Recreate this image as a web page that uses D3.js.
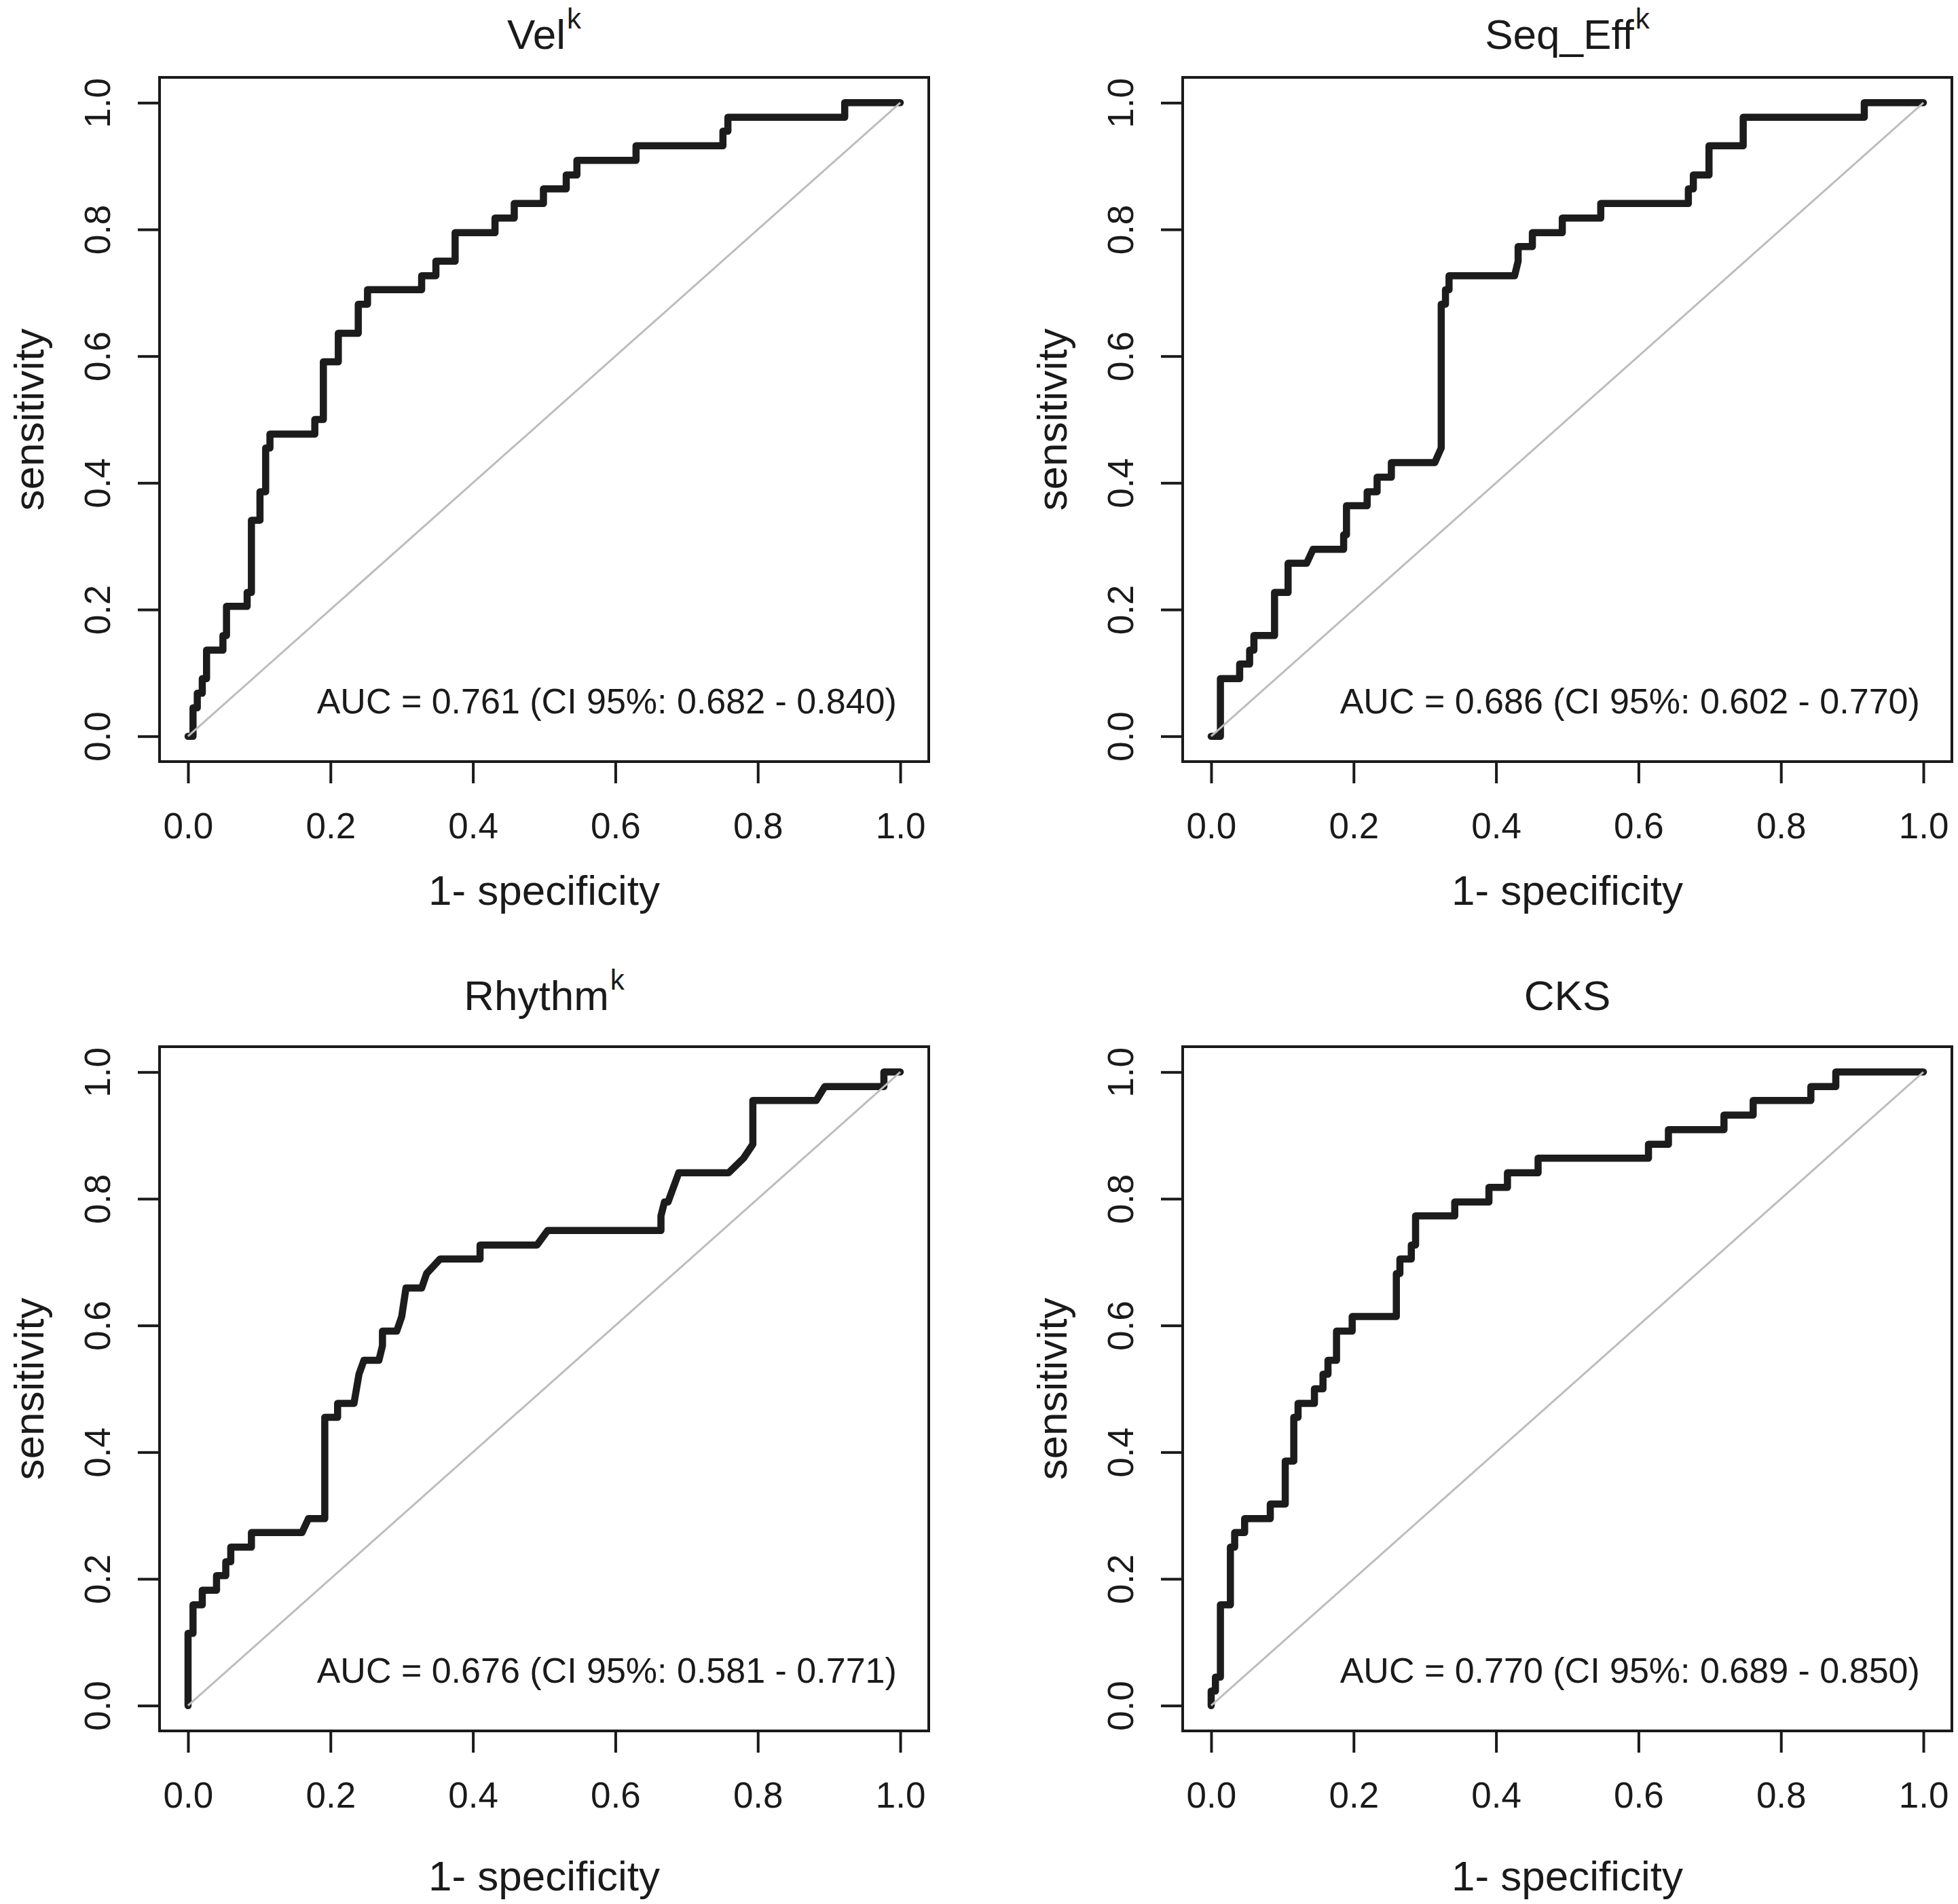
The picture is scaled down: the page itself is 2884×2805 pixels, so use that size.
<!DOCTYPE html>
<html>
<head>
<meta charset="utf-8">
<script src="https://cdn.jsdelivr.net/npm/d3@7/dist/d3.min.js"></script>
<style>
  html, body { margin: 0; padding: 0; background: #ffffff; }
  svg { display: block; }
  text { font-family: "Liberation Sans", Arial, Helvetica, sans-serif; fill: #1a1a1a; }
</style>
</head>
<body>
<div id="chart"></div>
<script>
// ---------------- data ----------------
const panelTitles = ["Vel", "Seq_Eff", "Rhythm", "CKS"];
const titleSuperscripts = ["k", "k", "k", ""];
const aucLabels = [
  "AUC = 0.761 (CI 95%: 0.682 - 0.840)",
  "AUC = 0.686 (CI 95%: 0.602 - 0.770)",
  "AUC = 0.676 (CI 95%: 0.581 - 0.771)",
  "AUC = 0.770 (CI 95%: 0.689 - 0.850)"
];
const tickValues = [0, 0.2, 0.4, 0.6, 0.8, 1.0];
const tickLabels = ["0.0", "0.2", "0.4", "0.6", "0.8", "1.0"];
const xAxisLabel = "1- specificity";
const yAxisLabel = "sensitivity";
const chanceLine = [0, 1];

// Vel^k ROC curve (1 - specificity, sensitivity)
const velFpr = [0, 0.007, 0.007, 0.013, 0.013, 0.020, 0.020, 0.026, 0.026, 0.049, 0.049, 0.054, 0.054, 0.083, 0.083,
  0.089, 0.089, 0.101, 0.101, 0.109, 0.109, 0.115, 0.115, 0.178, 0.178, 0.190, 0.190, 0.211, 0.211, 0.239, 0.239,
  0.252, 0.252, 0.328, 0.328, 0.348, 0.348, 0.375, 0.375, 0.431, 0.431, 0.458, 0.458, 0.499, 0.499, 0.531, 0.531,
  0.546, 0.546, 0.629, 0.629, 0.751, 0.751, 0.758, 0.758, 0.922, 0.922, 1];
const velTpr = [0, 0, 0.045, 0.045, 0.068, 0.068, 0.091, 0.091, 0.136, 0.136, 0.159, 0.159, 0.205, 0.205, 0.227,
  0.227, 0.341, 0.341, 0.386, 0.386, 0.455, 0.455, 0.477, 0.477, 0.5, 0.5, 0.591, 0.591, 0.636, 0.636, 0.682,
  0.682, 0.705, 0.705, 0.727, 0.727, 0.75, 0.75, 0.795, 0.795, 0.818, 0.818, 0.841, 0.841, 0.864, 0.864, 0.886,
  0.886, 0.909, 0.909, 0.932, 0.932, 0.955, 0.955, 0.977, 0.977, 1, 1];

// Seq_Eff^k ROC curve
const seqFpr = [0, 0.013, 0.013, 0.040, 0.040, 0.054, 0.054, 0.060, 0.060, 0.089, 0.089, 0.108, 0.108, 0.134, 0.143,
  0.186, 0.186, 0.190, 0.190, 0.219, 0.219, 0.233, 0.233, 0.253, 0.253, 0.314, 0.323, 0.323, 0.329, 0.329, 0.334,
  0.334, 0.426, 0.431, 0.431, 0.451, 0.451, 0.493, 0.493, 0.547, 0.547, 0.670, 0.670, 0.677, 0.677, 0.699, 0.699,
  0.747, 0.747, 0.917, 0.917, 1];
const seqTpr = [0, 0, 0.091, 0.091, 0.114, 0.114, 0.136, 0.136, 0.159, 0.159, 0.227, 0.227, 0.273, 0.273, 0.295,
  0.295, 0.318, 0.318, 0.364, 0.364, 0.386, 0.386, 0.409, 0.409, 0.432, 0.432, 0.455, 0.682, 0.682, 0.705, 0.705,
  0.727, 0.727, 0.75, 0.773, 0.773, 0.795, 0.795, 0.818, 0.818, 0.841, 0.841, 0.864, 0.864, 0.886, 0.886, 0.932,
  0.932, 0.977, 0.977, 1, 1];

// Rhythm^k ROC curve
const rhyFpr = [0, 0, 0.007, 0.007, 0.020, 0.020, 0.040, 0.040, 0.053, 0.053, 0.060, 0.060, 0.089, 0.089, 0.160,
  0.169, 0.192, 0.192, 0.210, 0.210, 0.233, 0.240, 0.247, 0.268, 0.273, 0.273, 0.293, 0.300, 0.306, 0.328, 0.335,
  0.354, 0.410, 0.410, 0.490, 0.505, 0.664, 0.664, 0.669, 0.674, 0.689, 0.759, 0.780, 0.793, 0.793, 0.882, 0.894,
  0.977, 0.977, 1];
const rhyTpr = [0, 0.114, 0.114, 0.159, 0.159, 0.182, 0.182, 0.205, 0.205, 0.227, 0.227, 0.25, 0.25, 0.273, 0.273,
  0.295, 0.295, 0.455, 0.455, 0.477, 0.477, 0.523, 0.545, 0.545, 0.568, 0.591, 0.591, 0.614, 0.659, 0.659, 0.682,
  0.705, 0.705, 0.727, 0.727, 0.75, 0.75, 0.773, 0.795, 0.795, 0.841, 0.841, 0.864, 0.886, 0.955, 0.955, 0.977,
  0.977, 1, 1];

// CKS ROC curve
const cksFpr = [0, 0, 0.006, 0.006, 0.013, 0.013, 0.027, 0.027, 0.033, 0.033, 0.047, 0.047, 0.083, 0.083, 0.104,
  0.104, 0.116, 0.116, 0.122, 0.122, 0.145, 0.145, 0.157, 0.157, 0.164, 0.164, 0.176, 0.176, 0.198, 0.198, 0.260,
  0.260, 0.265, 0.265, 0.281, 0.281, 0.287, 0.287, 0.342, 0.342, 0.390, 0.390, 0.416, 0.416, 0.459, 0.459, 0.614,
  0.614, 0.642, 0.642, 0.720, 0.720, 0.761, 0.761, 0.842, 0.842, 0.877, 0.877, 1];
const cksTpr = [0, 0.023, 0.023, 0.045, 0.045, 0.159, 0.159, 0.25, 0.25, 0.273, 0.273, 0.295, 0.295, 0.318, 0.318,
  0.386, 0.386, 0.455, 0.455, 0.477, 0.477, 0.5, 0.5, 0.523, 0.523, 0.545, 0.545, 0.591, 0.591, 0.614, 0.614,
  0.682, 0.682, 0.705, 0.705, 0.727, 0.727, 0.773, 0.773, 0.795, 0.795, 0.818, 0.818, 0.841, 0.841, 0.864, 0.864,
  0.886, 0.886, 0.909, 0.909, 0.932, 0.932, 0.955, 0.955, 0.977, 0.977, 1, 1];

const curveFpr = [velFpr, seqFpr, rhyFpr, cksFpr];
const curveTpr = [velTpr, seqTpr, rhyTpr, cksTpr];

// ---------------- layout ----------------
const W = 2884, H = 2805;
const colLeft = [235, 1742];
const rowTop = [114, 1542];
const titleBaseline = [72, 1488];
const xTitleOffset = [211, 235];
const boxW = 1133, boxH = 1008;
const ink = "#1a1a1a";

const svg = d3.select("#chart").append("svg")
  .attr("width", W).attr("height", H)
  .attr("viewBox", `0 0 ${W} ${H}`);
svg.append("rect").attr("width", W).attr("height", H).attr("fill", "#ffffff");

panelTitles.forEach((title, i) => {
  const col = i % 2, row = Math.floor(i / 2);
  const left = colLeft[col], top = rowTop[row];
  const right = left + boxW, bottom = top + boxH;

  const x = d3.scaleLinear().domain([-0.04, 1.04]).range([left, right]);
  const y = d3.scaleLinear().domain([-0.04, 1.04]).range([bottom, top]);

  const g = svg.append("g");

  // plot box
  g.append("rect")
    .attr("x", left).attr("y", top)
    .attr("width", boxW).attr("height", boxH)
    .attr("fill", "none").attr("stroke", ink).attr("stroke-width", 4);

  // x axis
  const xAxis = d3.axisBottom(x).tickValues(tickValues)
    .tickSize(32).tickPadding(0).tickFormat((d, k) => tickLabels[k]);
  const gx = g.append("g").attr("transform", `translate(0,${bottom})`).call(xAxis);
  gx.select(".domain").remove();
  gx.selectAll(".tick line").attr("stroke", ink).attr("stroke-width", 4);
  gx.selectAll(".tick text")
    .attr("y", 113).attr("dy", null)
    .attr("font-size", 53)
    .attr("fill", ink)
    .style("font-family", "'Liberation Sans', Arial, Helvetica, sans-serif");

  // y axis
  const yAxis = d3.axisLeft(y).tickValues(tickValues)
    .tickSize(32).tickPadding(0).tickFormat((d, k) => tickLabels[k]);
  const gy = g.append("g").attr("transform", `translate(${left},0)`).call(yAxis);
  gy.select(".domain").remove();
  gy.selectAll(".tick line").attr("stroke", ink).attr("stroke-width", 4);
  gy.selectAll(".tick text")
    .attr("x", null).attr("dy", null)
    .attr("transform", "translate(-73,0) rotate(-90)")
    .attr("text-anchor", "middle")
    .attr("font-size", 53)
    .attr("fill", ink)
    .style("font-family", "'Liberation Sans', Arial, Helvetica, sans-serif");

  // axis titles
  g.append("text")
    .attr("x", x(0.5)).attr("y", bottom + xTitleOffset[row])
    .attr("text-anchor", "middle").attr("font-size", 62)
    .text(xAxisLabel);
  g.append("text")
    .attr("transform", `translate(${left - 171},${y(0.5)}) rotate(-90)`)
    .attr("text-anchor", "middle").attr("font-size", 62)
    .text(yAxisLabel);

  // panel title with superscript
  const t = g.append("text")
    .attr("x", x(0.5)).attr("y", titleBaseline[row])
    .attr("text-anchor", "middle").attr("font-size", 62);
  t.append("tspan").text(title);
  if (titleSuperscripts[i]) {
    t.append("tspan").attr("font-size", 42).attr("dy", -30).attr("dx", 2).text(titleSuperscripts[i]);
  }

  // ROC curve
  const pts = curveFpr[i].map((f, k) => [f, curveTpr[i][k]]);
  const line = d3.line().x(d => x(d[0])).y(d => y(d[1]));
  g.append("path")
    .attr("d", line(pts))
    .attr("fill", "none")
    .attr("stroke", "#1c1c1c")
    .attr("stroke-width", 10.5)
    .attr("stroke-linejoin", "round")
    .attr("stroke-linecap", "round");

  // chance diagonal
  g.append("line")
    .attr("x1", x(chanceLine[0])).attr("y1", y(chanceLine[0]))
    .attr("x2", x(chanceLine[1])).attr("y2", y(chanceLine[1]))
    .attr("stroke", "#bdbdbd").attr("stroke-width", 3);

  // AUC label
  g.append("text")
    .attr("x", x(0.995)).attr("y", y(0.036))
    .attr("text-anchor", "end").attr("font-size", 52)
    .text(aucLabels[i]);
});
</script>
</body>
</html>
